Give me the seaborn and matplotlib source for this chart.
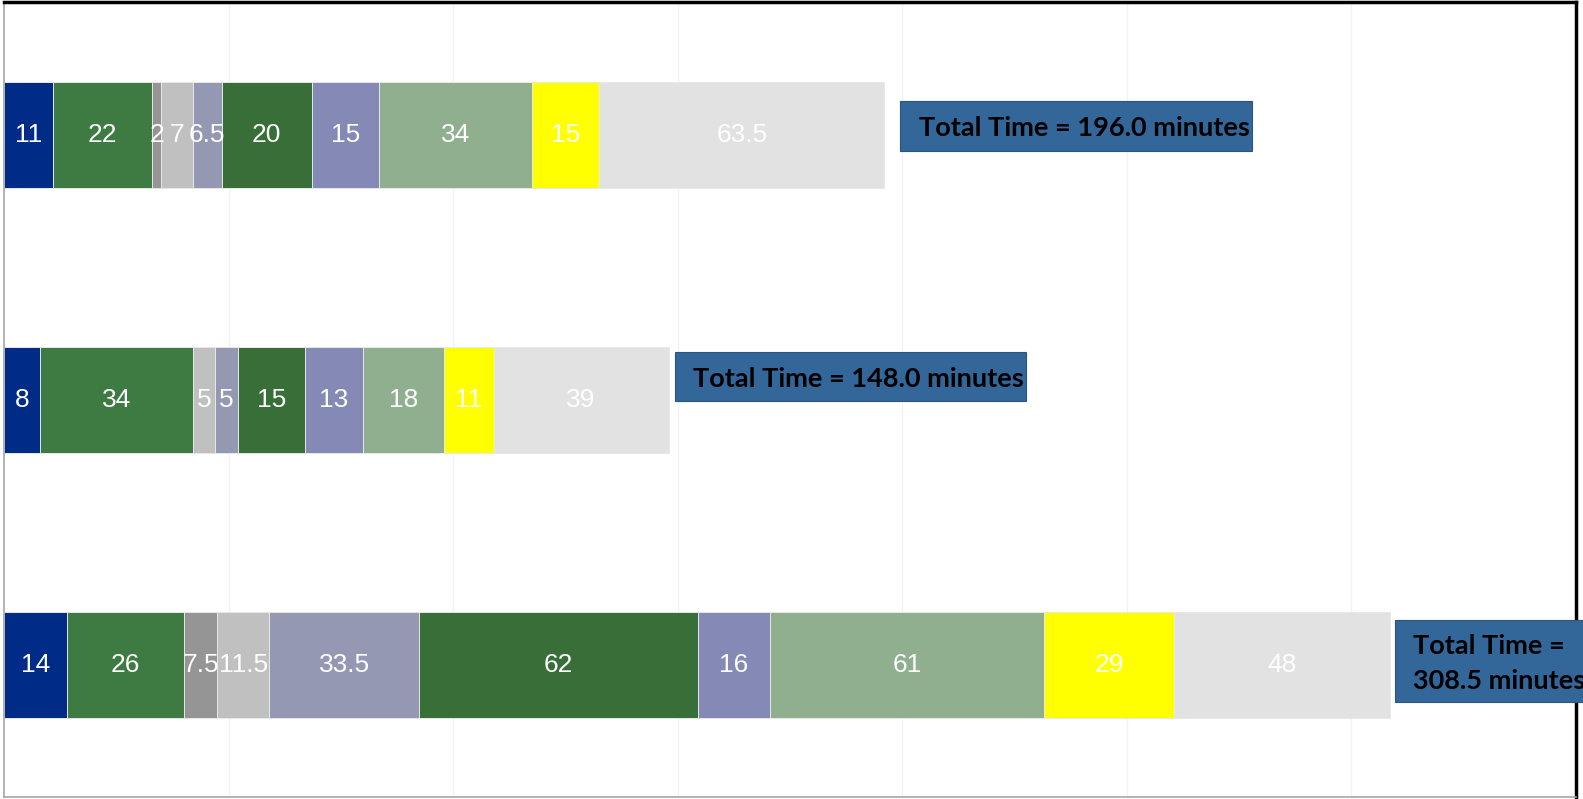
import matplotlib
matplotlib.use("Agg")
import matplotlib.pyplot as plt
from matplotlib.patches import Rectangle
import numpy as np
import pandas as pd
import seaborn as sns

# Stacked time breakdown per run (minutes)
rows = ["Run 1", "Run 2", "Run 3"]
seg_colors = ["#002B87", "#3E7B42", "#959595", "#C0C0C0", "#9598B3",
              "#386E38", "#8489B6", "#8FAF8F", "#FFFF00", "#E2E2E2"]
run1 = [11, 22, 2, 7, 6.5, 20, 15, 34, 15, 63.5]
run2 = [8, 34, 0, 5, 5, 15, 13, 18, 11, 39]
run3 = [14, 26, 7.5, 11.5, 33.5, 62, 16, 61, 29, 48]
total_labels = ["Total Time = 196.0 minutes",
                "Total Time = 148.0 minutes",
                "Total Time =\n308.5 minutes"]

values = np.array([run1, run2, run3], dtype=float)
cum = np.cumsum(values, axis=1)
totals = cum[:, -1]

sns.set_theme(style="white")
plt.rcParams["font.family"] = ["Liberation Sans", "DejaVu Sans"]

fig = plt.figure(figsize=(15.83, 7.99), dpi=100)
ax = fig.add_axes([4 / 1583, 2 / 799, 1572 / 1583, 795 / 799])

# Draw cumulative bars from the longest to the shortest so they stack visually
for k in range(values.shape[1] - 1, -1, -1):
    df = pd.DataFrame({"row": rows, "end": cum[:, k]})
    sns.barplot(data=df, x="end", y="row", order=rows, orient="h",
                color=seg_colors[k], saturation=1, width=0.4,
                edgecolor="#E8E8E8", linewidth=0.7, ax=ax)

# Segment value labels
for i in range(len(rows)):
    start = 0.0
    for k in range(values.shape[1]):
        v = values[i, k]
        if v > 0:
            ax.text(start + v / 2, i, f"{v:g}", ha="center", va="center",
                    color="white", fontsize=19, family="Liberation Sans")
        start += v

# Total-time callouts
box_w = 78.3
box_h = [0.188, 0.188, 0.309]
box_gap = [3.5, 1.3, 1.1]
box_dy = [-0.033, -0.087, -0.012]
for i, label in enumerate(total_labels):
    x0 = totals[i] + box_gap[i]
    yc = i + box_dy[i]
    rect = Rectangle((x0, yc - box_h[i] / 2), box_w, box_h[i],
                     facecolor="#336699", edgecolor="#2A5580", linewidth=0.8,
                     clip_on=False, zorder=5)
    ax.add_patch(rect)
    ax.text(x0 + 4.2, yc + 0.008, label, ha="left", va="center",
            fontsize=19.5, fontweight="bold", family="Lato", color="black",
            linespacing=1.55, zorder=6, clip_on=False)

ax.set_xlim(0, 350)
ax.set_ylim(2.5, -0.5)
ax.set_xticks(np.arange(50, 350, 50))
ax.set_xticklabels([])
ax.set_yticks([])
ax.set_xlabel("")
ax.set_ylabel("")
ax.grid(axis="x", color="#F2F2F2", linewidth=1)
ax.set_axisbelow(True)
ax.tick_params(length=0)

for side in ("left", "bottom"):
    ax.spines[side].set_color("#A6A6A6")
    ax.spines[side].set_linewidth(1.2)
ax.spines["top"].set_color("black")
ax.spines["top"].set_linewidth(2.5)
ax.spines["right"].set_color("black")
ax.spines["right"].set_linewidth(2.5)

fig.savefig("out.png", dpi=100, facecolor="white")
